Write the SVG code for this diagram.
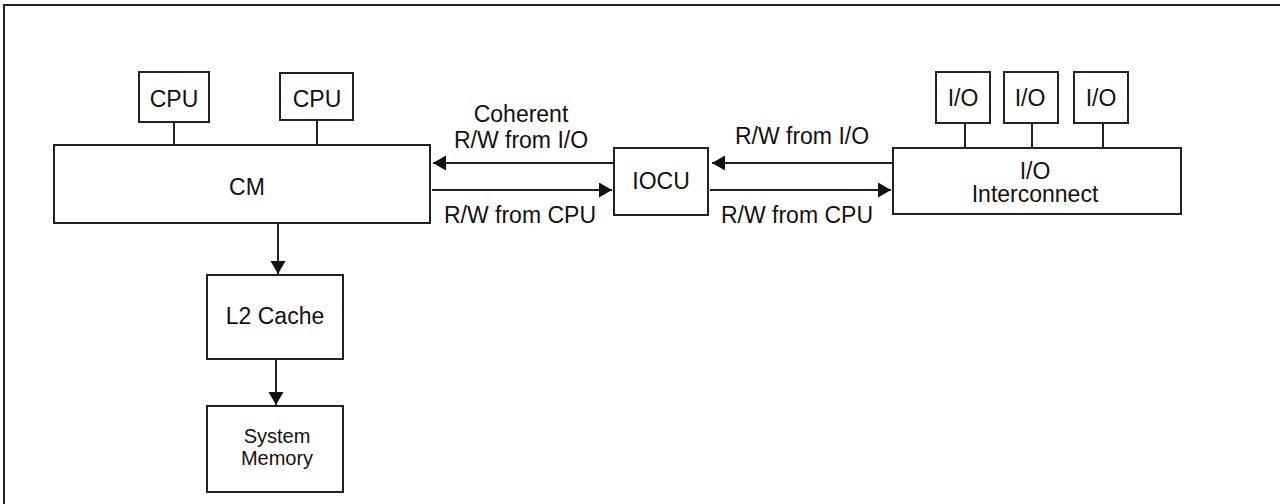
<svg xmlns="http://www.w3.org/2000/svg" width="1280" height="504" viewBox="0 0 1280 504">
<style>
.box{fill:#fff;stroke:#222;stroke-width:2}
.ln{fill:none;stroke:#222;stroke-width:2}
.t{font-family:"Liberation Sans",Arial,sans-serif;font-size:23px;fill:#111;text-anchor:middle}
.s{font-size:20px}
</style>
<defs>
<marker id="ah" markerUnits="userSpaceOnUse" markerWidth="14" markerHeight="16" refX="13" refY="7.5" orient="auto">
<path d="M0,0 L13,7.5 L0,15 Z" fill="#111"/>
</marker>
</defs>
<rect width="1280" height="504" fill="#fff"/>
<path class="ln" d="M4,504 V5 H1280"/>
<g id="connectors">
<line class="ln" x1="174" y1="122" x2="174" y2="145"/>
<line class="ln" x1="317" y1="120" x2="317" y2="145"/>
<line class="ln" x1="965" y1="123" x2="965" y2="148"/>
<line class="ln" x1="1032" y1="123" x2="1032" y2="148"/>
<line class="ln" x1="1103" y1="123" x2="1103" y2="148"/>
<line class="ln" x1="614" y1="163" x2="433" y2="163" marker-end="url(#ah)"/>
<line class="ln" x1="432" y1="190" x2="612" y2="190" marker-end="url(#ah)"/>
<line class="ln" x1="893" y1="163" x2="712" y2="163" marker-end="url(#ah)"/>
<line class="ln" x1="710" y1="190" x2="891" y2="190" marker-end="url(#ah)"/>
<line class="ln" x1="278" y1="223" x2="278" y2="274" marker-end="url(#ah)"/>
<line class="ln" x1="276" y1="359" x2="276" y2="405" marker-end="url(#ah)"/>
<text class="t" x="521" y="122">Coherent</text>
<text class="t" x="521" y="148">R/W from I/O</text>
<text class="t" x="520" y="223">R/W from CPU</text>
<text class="t" x="802" y="144">R/W from I/O</text>
<text class="t" x="797" y="223">R/W from CPU</text>
</g>
<g id="cpu1"><rect class="box" x="139" y="72" width="70" height="50"/><text class="t" x="174" y="107">CPU</text></g>
<g id="cpu2"><rect class="box" x="280" y="73" width="73" height="47"/><text class="t" x="317" y="107">CPU</text></g>
<g id="cm"><rect class="box" x="54" y="145" width="376" height="78"/><text class="t" x="247" y="195">CM</text></g>
<g id="iocu"><rect class="box" x="614" y="148" width="94" height="67"/><text class="t" x="661" y="189">IOCU</text></g>
<g id="io1"><rect class="box" x="936" y="72" width="54" height="51"/><text class="t" x="963" y="106">I/O</text></g>
<g id="io2"><rect class="box" x="1004" y="72" width="54" height="51"/><text class="t" x="1030" y="106">I/O</text></g>
<g id="io3"><rect class="box" x="1074" y="72" width="54" height="51"/><text class="t" x="1101" y="106">I/O</text></g>
<g id="iointerconnect"><rect class="box" x="893" y="148" width="288" height="66"/><text class="t" x="1035" y="179">I/O</text><text class="t" x="1035" y="202">Interconnect</text></g>
<g id="l2cache"><rect class="box" x="207" y="275" width="136" height="84"/><text class="t" x="275" y="324">L2 Cache</text></g>
<g id="sysmem"><rect class="box" x="207" y="406" width="136" height="86"/><text class="t s" x="277" y="443">System</text><text class="t s" x="277" y="465">Memory</text></g>
</svg>
